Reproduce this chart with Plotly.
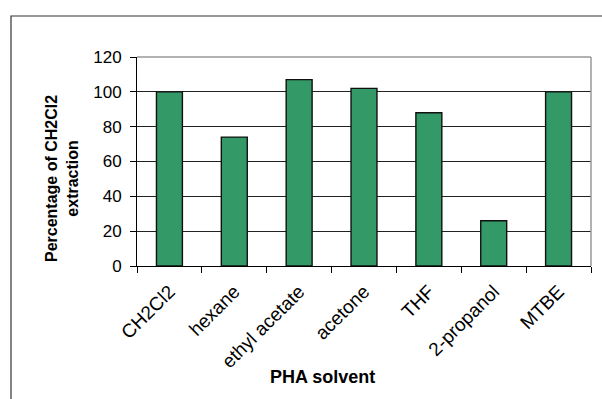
import plotly.graph_objects as go

solvents = ["CH2Cl2", "hexane", "ethyl acetate", "acetone", "THF", "2-propanol", "MTBE"]
percent_of_ch2cl2 = [100, 74, 107, 102, 88, 26, 100]
y_ticks = [0, 20, 40, 60, 80, 100, 120]

W, H = 602, 399
L, R, T, B = 137, 11, 57, 133
pw, ph = W - L - R, H - T - B


def px(x):
    return (x - L) / pw


def py(y):
    return (H - B - y) / ph


font = "Liberation Sans, Arial, sans-serif"

fig = go.Figure(
    go.Bar(
        x=solvents,
        y=percent_of_ch2cl2,
        marker=dict(color="#339966", line=dict(color="#111111", width=1.4)),
        width=0.4,
    )
)

fig.update_layout(
    width=W,
    height=H,
    margin=dict(l=L, r=R, t=T, b=B),
    paper_bgcolor="white",
    plot_bgcolor="white",
    showlegend=False,
    font=dict(family=font, size=16, color="black"),
    xaxis=dict(
        type="category",
        range=[-0.5, len(solvents) - 0.5],
        tickangle=-45,
        ticks="outside",
        ticklen=6,
        tickcolor="black",
        tickson="boundaries",
        showline=True,
        linecolor="black",
        linewidth=1,
        showgrid=False,
        tickfont=dict(size=19),
        ticklabelstandoff=6,
    ),
    yaxis=dict(
        range=[0, 120],
        tickvals=y_ticks,
        ticks="outside",
        ticklen=6,
        tickcolor="black",
        showline=True,
        linecolor="black",
        linewidth=1,
        showgrid=True,
        gridcolor="#222222",
        gridwidth=1,
        zeroline=False,
        tickfont=dict(size=17),
        ticklabelstandoff=5,
    ),
    shapes=[
        # gray frame on the top and right of the plotting area
        dict(type="line", xref="paper", yref="paper", x0=0, x1=1, y0=1, y1=1,
             line=dict(color="#999999", width=1.5)),
        dict(type="line", xref="paper", yref="paper", x0=1, x1=1, y0=0, y1=1,
             line=dict(color="#999999", width=1.5)),
        # outer chart border
        dict(type="rect", xref="paper", yref="paper",
             x0=px(11), x1=px(610), y0=py(410), y1=py(16),
             line=dict(color="#333333", width=1.2), layer="below"),
    ],
    annotations=[
        dict(text="<b>Percentage of CH2Cl2<br>extraction</b>", xref="paper", yref="paper",
             x=px(62), y=py(179), textangle=-90, showarrow=False,
             font=dict(size=16), align="center", xanchor="center", yanchor="middle"),
        dict(text="<b>PHA solvent</b>", xref="paper", yref="paper",
             x=px(322), y=py(377), showarrow=False, font=dict(size=18),
             xanchor="center", yanchor="middle"),
    ],
)

fig.write_html("out.html")
